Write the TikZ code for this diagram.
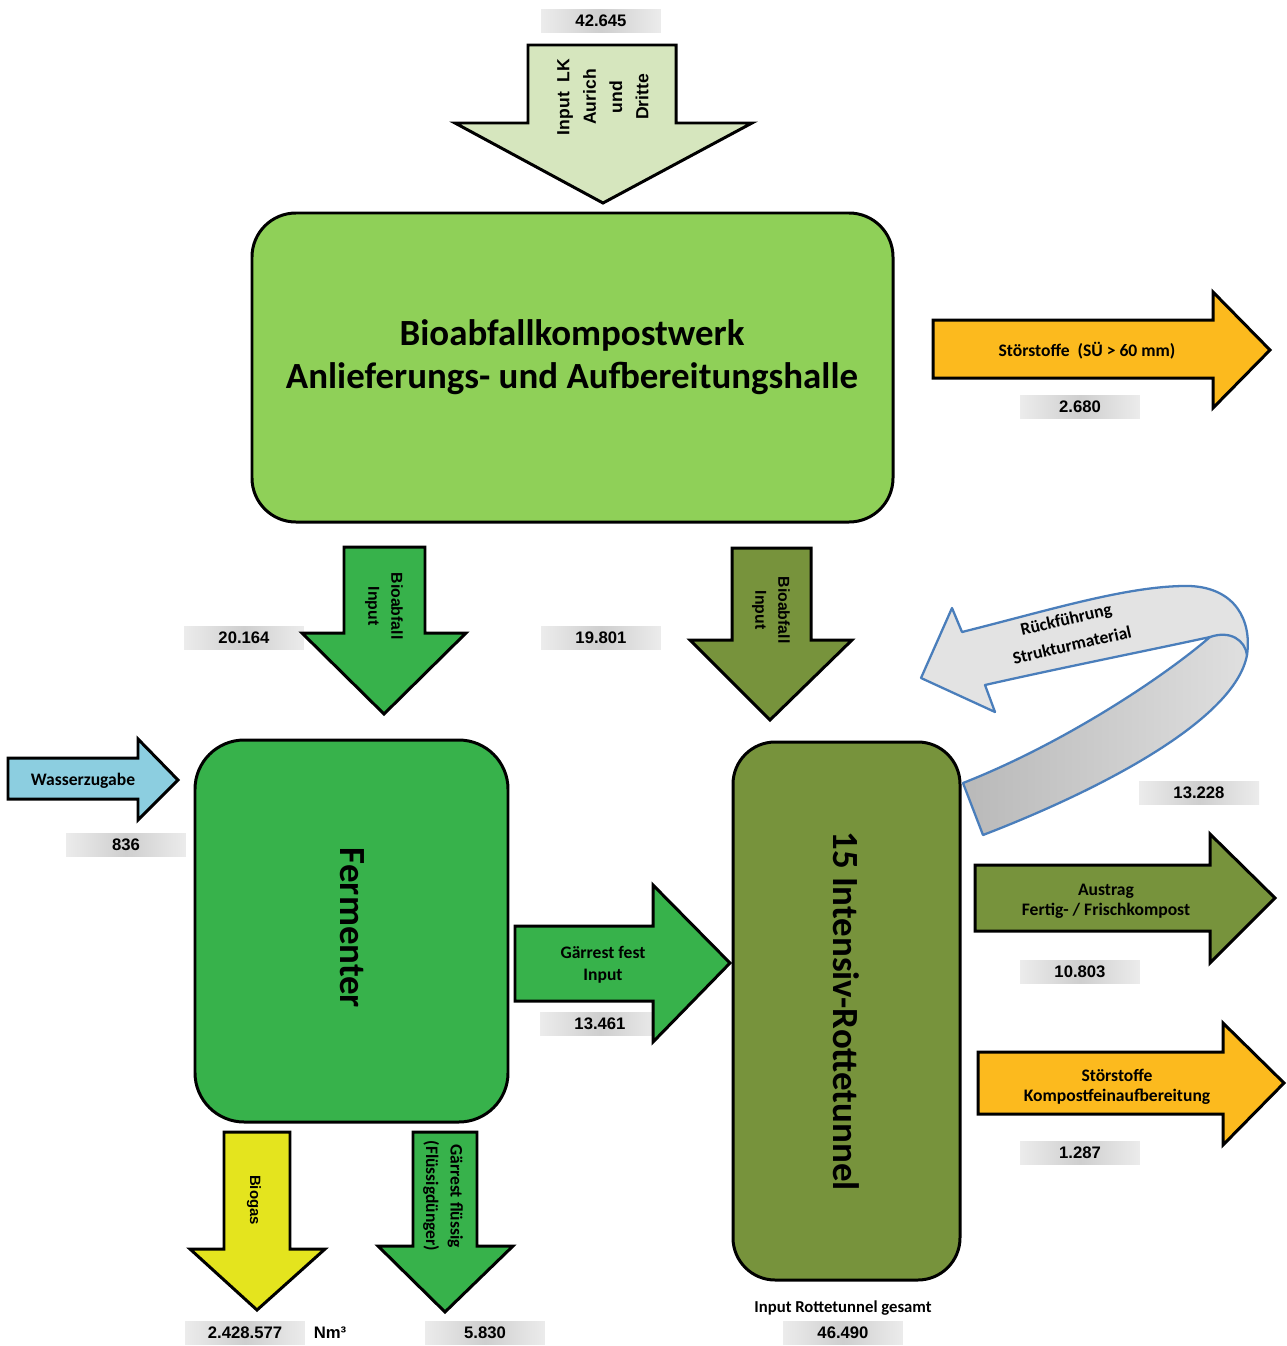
\documentclass[tikz,border=0pt]{standalone}
\usepackage{fontspec}
\setmainfont{Carlito}
\newfontfamily\afont{Liberation Sans}
\newfontfamily\cfont{Carlito}
\definecolor{lgreen}{RGB}{214,230,190}
\definecolor{mgreen}{RGB}{143,208,88}
\definecolor{dgreen}{RGB}{55,178,75}
\definecolor{olive}{RGB}{119,147,60}
\definecolor{amber}{RGB}{252,186,30}
\definecolor{yel}{RGB}{228,228,30}
\definecolor{sky}{RGB}{140,206,224}
\definecolor{rblue}{RGB}{74,126,187}
\begin{document}
\begin{tikzpicture}[x=0.02cm,y=-0.02cm,
 blk/.style={draw=black,line width=1.7pt,line join=miter},
 num/.style={font=\afont\bfseries\fontsize{9.5}{11}\selectfont,minimum width=2.4cm,minimum height=0.46cm,inner sep=0pt,left color=gray!15,right color=gray!15,middle color=gray!38},
 lbl/.style={font=\cfont\bfseries\fontsize{10}{12.5}\selectfont,align=center,inner sep=0pt},
 albl/.style={font=\afont\bfseries\fontsize{9}{13}\selectfont,align=center,inner sep=0pt},
 big/.style={font=\cfont\bfseries\fontsize{21}{24.5}\selectfont,align=center,inner sep=0pt}]
\useasboundingbox[fill=white] (0,0) rectangle (1287,1346);

% number boxes
\node[num] (n1) at (601,21) {42.645};
\node[num] (n2) at (1080,407) {2.680};
\node[num] (n3) at (244,638) {20.164};
\node[num] (n4) at (601,638) {19.801};
\node[num] (n5) at (126,845) {836};
\node[num] (n6) at (1199,793) {13.228};
\node[num] (n7) at (1080,972) {10.803};
\node[num] (n8) at (600,1024) {13.461};
\node[num] (n9) at (1080,1153) {1.287};
\node[num] (n10) at (245,1333) {2.428.577};
\node[font=\afont\bfseries\fontsize{9.5}{11}\selectfont] (nm) at (330,1333) {Nm³};
\node[num] (n11) at (485,1333) {5.830};
\node[num] (n12) at (843,1333) {46.490};

% top input arrow
\draw[blk,fill=lgreen] (528,45) -- (676,45) -- (676,123) -- (752,123) -- (603,203) -- (455,123) -- (528,123) -- cycle;
\node[albl,font=\afont\bfseries\fontsize{10}{15}\selectfont,rotate=90] (tin) at (603,97) {Input\ \ LK\\Aurich\\und\\Dritte};

% main hall
\draw[blk,fill=mgreen,rounded corners=25pt] (252,213) rectangle (893,522);
\node[big] (hall) at (572,357) {Bioabfallkompostwerk\\Anlieferungs- und Aufbereitungshalle};

% Störstoffe arrow
\draw[blk,fill=amber] (933,320) -- (1213,320) -- (1213,292) -- (1270,350) -- (1213,408) -- (1213,378) -- (933,378) -- cycle;
\node[lbl] (st1) at (1087,351) {Störstoffe\ \ (SÜ > 60 mm)};

% down arrows to fermenter and tunnel
\draw[blk,fill=dgreen] (344,547) -- (425,547) -- (425,633) -- (466,633) -- (384,714) -- (302,633) -- (344,633) -- cycle;
\node[albl,rotate=-90] (bi1) at (384,606) {Bioabfall\\Input};
\draw[blk,fill=olive] (732,548) -- (811,548) -- (811,640) -- (852,640) -- (770,720) -- (690,640) -- (732,640) -- cycle;
\node[albl,rotate=-90] (bi2) at (771,610) {Bioabfall\\Input};

% Wasserzugabe
\draw[blk,fill=sky] (8,758) -- (138,758) -- (138,739) -- (178,780) -- (138,820) -- (138,799) -- (8,799) -- cycle;
\node[lbl] (wz) at (83,781) {Wasserzugabe};

% Fermenter
\draw[blk,fill=dgreen,rounded corners=28pt] (195,740) rectangle (508,1122);
\node[big,rotate=-90] (ferm) at (352,928) {Fermenter};

% Gärrest fest
\draw[blk,fill=dgreen] (515,926) -- (653,926) -- (653,885) -- (730,963) -- (653,1042) -- (653,1001) -- (515,1001) -- cycle;
\node[lbl] (gf) at (603,965) {Gärrest fest\\Input};

% Rottetunnel
\draw[blk,fill=olive,rounded corners=24pt] (733,742) rectangle (960,1280);
\node[big,rotate=-90] (tun) at (846,1011) {15 Intensiv-Rottetunnel};
\node[lbl,font=\cfont\bfseries\fontsize{9.5}{11}\selectfont] (irg) at (843,1308) {Input Rottetunnel gesamt};

% Rückführung ribbon
\fill[gray!22] (921,678) -- (952,608) -- (962,632)
  .. controls (1050,610) and (1130,585) .. (1190,586)
  .. controls (1235,588) and (1252,620) .. (1247,655)
  .. controls (1235,720) and (1100,790) .. (983,835)
  -- (963,783)
  .. controls (1060,745) and (1160,680) .. (1210,637)
  .. controls (1160,648) and (1060,668) .. (985,685)
  -- (995,712) -- cycle;
\shade[left color=gray!55,right color=gray!25] (963,783)
  .. controls (1060,745) and (1160,680) .. (1210,637)
  .. controls (1230,630) and (1245,640) .. (1247,655)
  .. controls (1235,720) and (1100,790) .. (983,835) -- cycle;
\draw[draw=rblue,line width=1.3pt,line join=round] (921,678) -- (952,608) -- (962,632)
  .. controls (1050,610) and (1130,585) .. (1190,586)
  .. controls (1235,588) and (1252,620) .. (1247,655)
  .. controls (1235,720) and (1100,790) .. (983,835)
  -- (963,783)
  .. controls (1060,745) and (1160,680) .. (1210,637)
  .. controls (1160,648) and (1060,668) .. (985,685)
  -- (995,712) -- cycle;
\draw[draw=rblue,line width=1.3pt] (1210,637) .. controls (1230,630) and (1245,640) .. (1247,655);
\node[lbl,font=\cfont\bfseries\fontsize{10}{15}\selectfont,rotate=13] (rf) at (1069,632) {Rückführung\\Strukturmaterial};

% Austrag
\draw[blk,fill=olive] (975,865) -- (1210,865) -- (1210,834) -- (1275,898) -- (1210,963) -- (1210,931) -- (975,931) -- cycle;
\node[lbl,font=\cfont\bfseries\fontsize{10}{11.5}\selectfont] (aus) at (1106,901) {Austrag\\Fertig- / Frischkompost};

% Störstoffe Kompostfeinaufbereitung
\draw[blk,fill=amber] (978,1052) -- (1223,1052) -- (1223,1023) -- (1284,1083) -- (1223,1145) -- (1223,1114) -- (978,1114) -- cycle;
\node[lbl,font=\cfont\bfseries\fontsize{10}{11.5}\selectfont] (sk) at (1117,1087) {Störstoffe\\Kompostfeinaufbereitung};

% Biogas
\draw[blk,fill=yel] (224,1132) -- (290,1132) -- (290,1249) -- (325,1249) -- (257,1310) -- (190,1249) -- (224,1249) -- cycle;
\node[albl,font=\afont\bfseries\fontsize{8.5}{10}\selectfont,rotate=-90] (bg) at (254,1200) {Biogas};

% Gärrest flüssig
\draw[blk,fill=dgreen] (413,1132) -- (477,1132) -- (477,1246) -- (513,1246) -- (445,1312) -- (378,1246) -- (413,1246) -- cycle;
\node[lbl,font=\cfont\bfseries\fontsize{10}{14}\selectfont,rotate=-90] (gfl) at (443,1196) {Gärrest flüssig\\(Flüssigdünger)};
\end{tikzpicture}
\end{document}
